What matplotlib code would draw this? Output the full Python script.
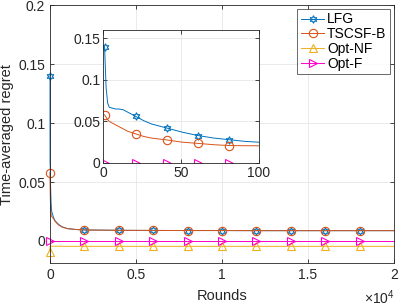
import matplotlib
matplotlib.use("Agg")
import matplotlib.pyplot as plt

plt.rcParams['font.family'] = ['Liberation Sans', 'DejaVu Sans']
plt.rcParams['mathtext.fontset'] = 'custom'
plt.rcParams['mathtext.rm'] = 'Liberation Sans'

# ---- data ----
series_names = ["LFG", "TSCSF-B", "Opt-NF", "Opt-F"]

rounds_early = [1, 2, 3, 4, 6, 8, 10, 13, 16, 21, 26, 31, 41, 51, 61, 71, 81, 91, 100]
lfg_early = [0.14, 0.09, 0.072, 0.067, 0.066, 0.065, 0.065, 0.064, 0.061, 0.056, 0.051,
             0.047, 0.042, 0.037, 0.033, 0.030, 0.028, 0.026, 0.025]
tscsf_early = [0.058, 0.055, 0.052, 0.050, 0.048, 0.046, 0.044, 0.041, 0.038, 0.035, 0.032,
               0.030, 0.0277, 0.025, 0.0236, 0.022, 0.021, 0.0208, 0.0207]
optnf_early = [-0.009, -0.0045, -0.0045, -0.0045, -0.0045, -0.0045, -0.0045, -0.0045, -0.0045,
               -0.0045, -0.0045, -0.0045, -0.0045, -0.0045, -0.0045, -0.0045, -0.0045, -0.0045, -0.0045]
optf_early = [0.0] * 19

rounds_late = [200, 300, 500, 700, 1000, 1500, 2001, 4001, 6001, 8001, 10001, 12001,
               14001, 16001, 18001, 20000]
lfg_late = [0.020, 0.017, 0.014, 0.012, 0.0105, 0.0097, 0.0093, 0.0090, 0.0089, 0.0088,
            0.0088, 0.0087, 0.0087, 0.0087, 0.0087, 0.0087]
tscsf_late = [0.019, 0.0165, 0.0135, 0.0118, 0.0104, 0.0097, 0.0093, 0.0090, 0.0089, 0.0088,
              0.0088, 0.0087, 0.0087, 0.0087, 0.0087, 0.0087]
optnf_late = [-0.0045, -0.0045, -0.0045, -0.0046, -0.0046, -0.0046, -0.0046, -0.0046, -0.0046,
              -0.0046, -0.0046, -0.0046, -0.0046, -0.0046, -0.0046, -0.0046]
optf_late = [0.0] * 16

main_marker_rounds = [1, 2001, 4001, 6001, 8001, 10001, 12001, 14001, 16001, 18001]
inset_marker_rounds = [1, 21, 41, 61, 81]

main_yticks = [0, 0.05, 0.1, 0.15, 0.2]
main_ytick_labels = ["0", "0.05", "0.1", "0.15", "0.2"]
main_xticks = [0, 5000, 10000, 15000, 20000]
main_xtick_labels = ["0", "0.5", "1", "1.5", "2"]
inset_yticks = [0, 0.05, 0.1, 0.15]
inset_ytick_labels = ["0", "0.05", "0.1", "0.15"]
inset_xticks = [0, 50, 100]

colors = ["#0072BD", "#D95319", "#EDB120", "#FF00CC"]
hexagram = (6, 1, 0)
markers = [hexagram, "o", "^", ">"]
msizes = [5.5, 6, 6, 6]

rounds_all = rounds_early + rounds_late
main_series = [lfg_early + lfg_late, tscsf_early + tscsf_late,
               optnf_early + optnf_late, optf_early + optf_late]
inset_series = [lfg_early, tscsf_early, optnf_early, optf_early]

FS = 10

fig = plt.figure(figsize=(3.99, 3.06), dpi=100)
ax = fig.add_axes([50/399, 1-263.3/306, 344/399, 258/306])

main_idx = [rounds_all.index(r) for r in main_marker_rounds]
for name, ys, c, m, ms in zip(series_names, main_series, colors, markers, msizes):
    ax.plot(rounds_all, ys, color=c, lw=0.7, marker=m, markevery=main_idx,
            markersize=ms, markerfacecolor='none', markeredgewidth=0.8,
            label=name, clip_on=False)

ax.set_xlim(0, 20000)
ax.set_ylim(-0.019, 0.2)
ax.set_xticks(main_xticks)
ax.set_xticklabels(main_xtick_labels)
ax.set_yticks(main_yticks)
ax.set_yticklabels(main_ytick_labels)
fig.text(395/399, 1-298/306, r'$\times10^{4}$', ha='right', va='center', fontsize=FS,
         color="#262626")
ax.grid(True, color="#e6e6e6", lw=0.6)
ax.set_axisbelow(True)
ax.tick_params(direction='in', top=True, right=True, labelsize=FS, length=3,
               color="#262626", width=0.6, labelcolor="#262626")
for s in ax.spines.values():
    s.set_color("#262626")
    s.set_linewidth(0.6)
ax.set_xlabel("Rounds", fontsize=10.5, labelpad=5, color="#262626")
ax.set_ylabel("Time-averaged regret", fontsize=10.5, labelpad=3, color="#262626")

leg = ax.legend(loc='upper right', bbox_to_anchor=(390/399, 1-9/306),
                bbox_transform=fig.transFigure, fontsize=FS, frameon=True,
                fancybox=False, edgecolor="#262626", borderpad=0.25,
                handlelength=1.7, handletextpad=0.2, labelspacing=0.05,
                borderaxespad=0)
leg.get_frame().set_linewidth(0.6)

# inset
ins = fig.add_axes([103/399, 1-163/306, 156/399, 133/306])
ins_idx = [rounds_early.index(r) for r in inset_marker_rounds]
for name, ys, c, m, ms in zip(series_names, inset_series, colors, markers, msizes):
    ins.plot(rounds_early, ys, color=c, lw=0.7, marker=m, markevery=ins_idx,
             markersize=ms, markerfacecolor='none', markeredgewidth=0.8)
ins.set_xlim(0, 100)
ins.set_ylim(0, 0.16)
ins.set_xticks(inset_xticks)
ins.set_yticks(inset_yticks)
ins.set_yticklabels(inset_ytick_labels)
ins.grid(True, color="#e6e6e6", lw=0.6)
ins.set_axisbelow(True)
ins.tick_params(direction='in', top=True, right=True, labelsize=FS, length=3,
                color="#262626", width=0.6, pad=2, labelcolor="#262626")
for s in ins.spines.values():
    s.set_color("#262626")
    s.set_linewidth(0.6)

fig.savefig("out.png", dpi=100)
